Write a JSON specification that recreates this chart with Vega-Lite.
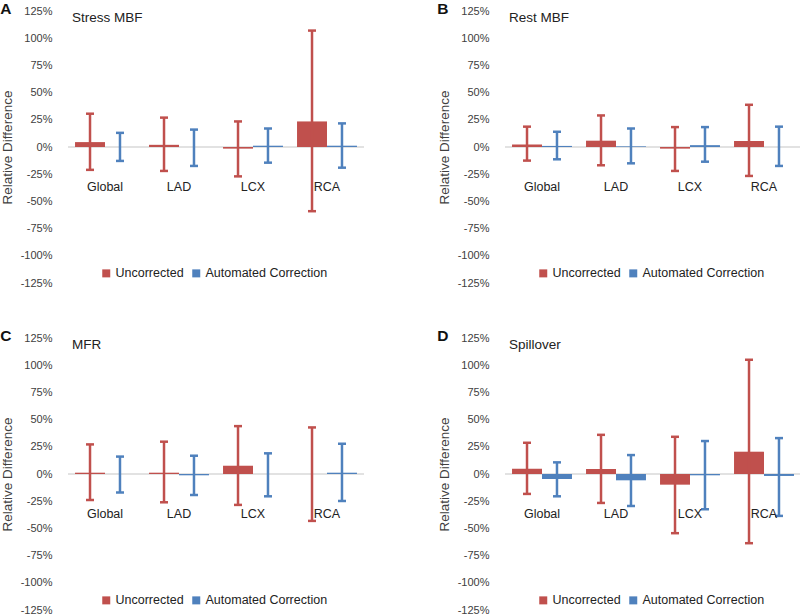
{
  "$schema": "https://vega.github.io/schema/vega-lite/v6.json",
  "padding": {"left": 0, "top": 1, "right": 0, "bottom": 0},
  "background": "white",
  "config": {
    "font": "Liberation Sans",
    "view": {"stroke": null},
    "axisY": {"domain": false, "ticks": false, "grid": false, "labelFontSize": 11, "labelColor": "#404040", "labelPadding": 16, "titleFontSize": 13.5, "titleFontWeight": "normal", "titleColor": "#404040", "titlePadding": 6},
    "title": {"fontSize": 15.5, "fontWeight": "bold", "anchor": "start", "frame": "bounds", "color": "#111111", "dy": 0}
  },
  "datasets": {
    "A": [
      {"cat": "Global", "series": "Uncorrected", "val": 4.5, "lo": -21, "hi": 30.6},
      {"cat": "Global", "series": "Automated Correction", "val": 0, "lo": -12.8, "hi": 13},
      {"cat": "LAD", "series": "Uncorrected", "val": 2, "lo": -22, "hi": 27},
      {"cat": "LAD", "series": "Automated Correction", "val": 0, "lo": -17.4, "hi": 16},
      {"cat": "LCX", "series": "Uncorrected", "val": -1.5, "lo": -27, "hi": 23.5},
      {"cat": "LCX", "series": "Automated Correction", "val": 1.2, "lo": -14.4, "hi": 17},
      {"cat": "RCA", "series": "Uncorrected", "val": 23.5, "lo": -59, "hi": 107},
      {"cat": "RCA", "series": "Automated Correction", "val": 1.2, "lo": -19, "hi": 21.7}
    ],
    "B": [
      {"cat": "Global", "series": "Uncorrected", "val": 2.4, "lo": -12.5, "hi": 18.7},
      {"cat": "Global", "series": "Automated Correction", "val": 1, "lo": -11.3, "hi": 14},
      {"cat": "LAD", "series": "Uncorrected", "val": 5.8, "lo": -16.8, "hi": 29},
      {"cat": "LAD", "series": "Automated Correction", "val": 0.6, "lo": -15, "hi": 17},
      {"cat": "LCX", "series": "Uncorrected", "val": -1.5, "lo": -22, "hi": 18.3},
      {"cat": "LCX", "series": "Automated Correction", "val": 1.7, "lo": -13.5, "hi": 18.3},
      {"cat": "RCA", "series": "Uncorrected", "val": 5.5, "lo": -26.6, "hi": 38.8},
      {"cat": "RCA", "series": "Automated Correction", "val": 0, "lo": -17.4, "hi": 18.7}
    ],
    "C": [
      {"cat": "Global", "series": "Uncorrected", "val": 1.2, "lo": -23.9, "hi": 27.2},
      {"cat": "Global", "series": "Automated Correction", "val": 0, "lo": -17, "hi": 16},
      {"cat": "LAD", "series": "Uncorrected", "val": 1.2, "lo": -26, "hi": 29.7},
      {"cat": "LAD", "series": "Automated Correction", "val": -1.2, "lo": -19.3, "hi": 16.8},
      {"cat": "LCX", "series": "Uncorrected", "val": 7.6, "lo": -28.4, "hi": 44},
      {"cat": "LCX", "series": "Automated Correction", "val": 0, "lo": -20.5, "hi": 19},
      {"cat": "RCA", "series": "Uncorrected", "val": 0, "lo": -43.1, "hi": 42.8},
      {"cat": "RCA", "series": "Automated Correction", "val": 1.2, "lo": -24.8, "hi": 27.8}
    ],
    "D": [
      {"cat": "Global", "series": "Uncorrected", "val": 4.9, "lo": -18.3, "hi": 28.7},
      {"cat": "Global", "series": "Automated Correction", "val": -4.6, "lo": -20.5, "hi": 10.7},
      {"cat": "LAD", "series": "Uncorrected", "val": 4.6, "lo": -26.6, "hi": 36},
      {"cat": "LAD", "series": "Automated Correction", "val": -5.8, "lo": -29.4, "hi": 17.4},
      {"cat": "LCX", "series": "Uncorrected", "val": -9.8, "lo": -54.4, "hi": 34.2},
      {"cat": "LCX", "series": "Automated Correction", "val": -1.2, "lo": -32.4, "hi": 30.3},
      {"cat": "RCA", "series": "Uncorrected", "val": 20.5, "lo": -63.6, "hi": 105},
      {"cat": "RCA", "series": "Automated Correction", "val": -1.8, "lo": -38.5, "hi": 33}
    ]
  },
  "resolve": {"legend": {"color": "independent"}},
  "spacing": 40,
  "vconcat": [
    {
      "resolve": {"legend": {"color": "independent"}},
      "spacing": 72,
      "hconcat": [
        {
          "width": 296, "height": 272,
          "title": {"text": "A", "offset": -12},
          "data": {"name": "A"},
          "layer": [
            {"data": {"values": [{"z": 0}]}, "mark": {"type": "rule", "color": "#d9d9d9", "strokeWidth": 1.5}, "encoding": {"y": {"field": "z", "type": "quantitative", "title": "Relative Difference", "axis": {"values": [-125, -100, -75, -50, -25, 0, 25, 50, 75, 100, 125], "labelExpr": "datum.value + '%'"}}}},
            {"mark": {"type": "bar"}, "encoding": {
              "x": {"field": "cat", "type": "nominal", "sort": ["Global", "LAD", "LCX", "RCA"], "scale": {"paddingInner": 0.19, "paddingOuter": 0.095}, "axis": null},
              "xOffset": {"field": "series", "type": "nominal", "sort": ["Uncorrected", "Automated Correction"], "scale": {"paddingInner": 0, "paddingOuter": 0}},
              "y": {"field": "val", "type": "quantitative", "scale": {"domain": [-125, 125], "nice": false}, "title": "Relative Difference", "axis": {"values": [-125, -100, -75, -50, -25, 0, 25, 50, 75, 100, 125], "labelExpr": "datum.value + '%'"}},
              "color": {"field": "series", "type": "nominal", "scale": {"domain": ["Uncorrected", "Automated Correction"], "range": ["#C0504D", "#4F81BD"]}, "legend": {"orient": "none", "legendX": 32, "legendY": 256, "direction": "horizontal", "title": null, "symbolType": "square", "symbolSize": 64, "symbolStrokeWidth": 0, "labelFontSize": 12.5, "labelColor": "#222222", "columnPadding": 6, "labelOffset": 3, "padding": 0}}
            }},
            {"mark": {"type": "rule", "strokeWidth": 2.5}, "encoding": {
              "x": {"field": "cat", "type": "nominal", "sort": ["Global", "LAD", "LCX", "RCA"], "axis": null},
              "xOffset": {"field": "series", "type": "nominal", "sort": ["Uncorrected", "Automated Correction"]},
              "y": {"field": "lo", "type": "quantitative", "title": "Relative Difference", "axis": {"values": [-125, -100, -75, -50, -25, 0, 25, 50, 75, 100, 125], "labelExpr": "datum.value + '%'"}}, "y2": {"field": "hi"},
              "color": {"field": "series", "type": "nominal", "legend": null}
            }},
            {"mark": {"type": "tick", "orient": "horizontal", "size": 8, "thickness": 2.5, "opacity": 1}, "encoding": {
              "x": {"field": "cat", "type": "nominal", "sort": ["Global", "LAD", "LCX", "RCA"], "axis": null},
              "xOffset": {"field": "series", "type": "nominal", "sort": ["Uncorrected", "Automated Correction"]},
              "y": {"field": "lo", "type": "quantitative", "title": "Relative Difference", "axis": {"values": [-125, -100, -75, -50, -25, 0, 25, 50, 75, 100, 125], "labelExpr": "datum.value + '%'"}},
              "color": {"field": "series", "type": "nominal", "legend": null}
            }},
            {"mark": {"type": "tick", "orient": "horizontal", "size": 8, "thickness": 2.5, "opacity": 1}, "encoding": {
              "x": {"field": "cat", "type": "nominal", "sort": ["Global", "LAD", "LCX", "RCA"], "axis": null},
              "xOffset": {"field": "series", "type": "nominal", "sort": ["Uncorrected", "Automated Correction"]},
              "y": {"field": "hi", "type": "quantitative", "title": "Relative Difference", "axis": {"values": [-125, -100, -75, -50, -25, 0, 25, 50, 75, 100, 125], "labelExpr": "datum.value + '%'"}},
              "color": {"field": "series", "type": "nominal", "legend": null}
            }},
            {"transform": [{"filter": "datum.series === 'Uncorrected'"}], "mark": {"type": "text", "fontSize": 12.5, "color": "#222222", "baseline": "middle"}, "encoding": {
              "x": {"field": "cat", "type": "nominal", "sort": ["Global", "LAD", "LCX", "RCA"], "axis": null},
              "y": {"datum": -37, "type": "quantitative", "title": "Relative Difference", "axis": {"values": [-125, -100, -75, -50, -25, 0, 25, 50, 75, 100, 125], "labelExpr": "datum.value + '%'"}},
              "text": {"field": "cat"}
            }},
            {"data": {"values": [{"t": "Stress MBF", "c": "Global"}]}, "mark": {"type": "text", "fontSize": 13.5, "color": "#222222", "align": "left", "baseline": "middle", "dx": -3}, "encoding": {
              "x": {"field": "c", "type": "nominal", "sort": ["Global", "LAD", "LCX", "RCA"], "bandPosition": 0, "axis": null},
              "y": {"datum": 119, "type": "quantitative", "title": "Relative Difference", "axis": {"values": [-125, -100, -75, -50, -25, 0, 25, 50, 75, 100, 125], "labelExpr": "datum.value + '%'"}},
              "text": {"field": "t"}
            }}
          ]
        },
        {
          "width": 296, "height": 272,
          "title": {"text": "B", "offset": -12},
          "data": {"name": "B"},
          "layer": [
            {"data": {"values": [{"z": 0}]}, "mark": {"type": "rule", "color": "#d9d9d9", "strokeWidth": 1.5}, "encoding": {"y": {"field": "z", "type": "quantitative", "title": "Relative Difference", "axis": {"values": [-125, -100, -75, -50, -25, 0, 25, 50, 75, 100, 125], "labelExpr": "datum.value + '%'"}}}},
            {"mark": {"type": "bar"}, "encoding": {
              "x": {"field": "cat", "type": "nominal", "sort": ["Global", "LAD", "LCX", "RCA"], "scale": {"paddingInner": 0.19, "paddingOuter": 0.095}, "axis": null},
              "xOffset": {"field": "series", "type": "nominal", "sort": ["Uncorrected", "Automated Correction"], "scale": {"paddingInner": 0, "paddingOuter": 0}},
              "y": {"field": "val", "type": "quantitative", "scale": {"domain": [-125, 125], "nice": false}, "title": "Relative Difference", "axis": {"values": [-125, -100, -75, -50, -25, 0, 25, 50, 75, 100, 125], "labelExpr": "datum.value + '%'"}},
              "color": {"field": "series", "type": "nominal", "scale": {"domain": ["Uncorrected", "Automated Correction"], "range": ["#C0504D", "#4F81BD"]}, "legend": {"orient": "none", "legendX": 32, "legendY": 256, "direction": "horizontal", "title": null, "symbolType": "square", "symbolSize": 64, "symbolStrokeWidth": 0, "labelFontSize": 12.5, "labelColor": "#222222", "columnPadding": 6, "labelOffset": 3, "padding": 0}}
            }},
            {"mark": {"type": "rule", "strokeWidth": 2.5}, "encoding": {
              "x": {"field": "cat", "type": "nominal", "sort": ["Global", "LAD", "LCX", "RCA"], "axis": null},
              "xOffset": {"field": "series", "type": "nominal", "sort": ["Uncorrected", "Automated Correction"]},
              "y": {"field": "lo", "type": "quantitative", "title": "Relative Difference", "axis": {"values": [-125, -100, -75, -50, -25, 0, 25, 50, 75, 100, 125], "labelExpr": "datum.value + '%'"}}, "y2": {"field": "hi"},
              "color": {"field": "series", "type": "nominal", "legend": null}
            }},
            {"mark": {"type": "tick", "orient": "horizontal", "size": 8, "thickness": 2.5, "opacity": 1}, "encoding": {
              "x": {"field": "cat", "type": "nominal", "sort": ["Global", "LAD", "LCX", "RCA"], "axis": null},
              "xOffset": {"field": "series", "type": "nominal", "sort": ["Uncorrected", "Automated Correction"]},
              "y": {"field": "lo", "type": "quantitative", "title": "Relative Difference", "axis": {"values": [-125, -100, -75, -50, -25, 0, 25, 50, 75, 100, 125], "labelExpr": "datum.value + '%'"}},
              "color": {"field": "series", "type": "nominal", "legend": null}
            }},
            {"mark": {"type": "tick", "orient": "horizontal", "size": 8, "thickness": 2.5, "opacity": 1}, "encoding": {
              "x": {"field": "cat", "type": "nominal", "sort": ["Global", "LAD", "LCX", "RCA"], "axis": null},
              "xOffset": {"field": "series", "type": "nominal", "sort": ["Uncorrected", "Automated Correction"]},
              "y": {"field": "hi", "type": "quantitative", "title": "Relative Difference", "axis": {"values": [-125, -100, -75, -50, -25, 0, 25, 50, 75, 100, 125], "labelExpr": "datum.value + '%'"}},
              "color": {"field": "series", "type": "nominal", "legend": null}
            }},
            {"transform": [{"filter": "datum.series === 'Uncorrected'"}], "mark": {"type": "text", "fontSize": 12.5, "color": "#222222", "baseline": "middle"}, "encoding": {
              "x": {"field": "cat", "type": "nominal", "sort": ["Global", "LAD", "LCX", "RCA"], "axis": null},
              "y": {"datum": -37, "type": "quantitative", "title": "Relative Difference", "axis": {"values": [-125, -100, -75, -50, -25, 0, 25, 50, 75, 100, 125], "labelExpr": "datum.value + '%'"}},
              "text": {"field": "cat"}
            }},
            {"data": {"values": [{"t": "Rest MBF", "c": "Global"}]}, "mark": {"type": "text", "fontSize": 13.5, "color": "#222222", "align": "left", "baseline": "middle", "dx": -3}, "encoding": {
              "x": {"field": "c", "type": "nominal", "sort": ["Global", "LAD", "LCX", "RCA"], "bandPosition": 0, "axis": null},
              "y": {"datum": 119, "type": "quantitative", "title": "Relative Difference", "axis": {"values": [-125, -100, -75, -50, -25, 0, 25, 50, 75, 100, 125], "labelExpr": "datum.value + '%'"}},
              "text": {"field": "t"}
            }}
          ]
        }
      ]
    },
    {
      "resolve": {"legend": {"color": "independent"}},
      "spacing": 72,
      "hconcat": [
        {
          "width": 296, "height": 272,
          "title": {"text": "C", "offset": -12},
          "data": {"name": "C"},
          "layer": [
            {"data": {"values": [{"z": 0}]}, "mark": {"type": "rule", "color": "#d9d9d9", "strokeWidth": 1.5}, "encoding": {"y": {"field": "z", "type": "quantitative", "title": "Relative Difference", "axis": {"values": [-125, -100, -75, -50, -25, 0, 25, 50, 75, 100, 125], "labelExpr": "datum.value + '%'"}}}},
            {"mark": {"type": "bar"}, "encoding": {
              "x": {"field": "cat", "type": "nominal", "sort": ["Global", "LAD", "LCX", "RCA"], "scale": {"paddingInner": 0.19, "paddingOuter": 0.095}, "axis": null},
              "xOffset": {"field": "series", "type": "nominal", "sort": ["Uncorrected", "Automated Correction"], "scale": {"paddingInner": 0, "paddingOuter": 0}},
              "y": {"field": "val", "type": "quantitative", "scale": {"domain": [-125, 125], "nice": false}, "title": "Relative Difference", "axis": {"values": [-125, -100, -75, -50, -25, 0, 25, 50, 75, 100, 125], "labelExpr": "datum.value + '%'"}},
              "color": {"field": "series", "type": "nominal", "scale": {"domain": ["Uncorrected", "Automated Correction"], "range": ["#C0504D", "#4F81BD"]}, "legend": {"orient": "none", "legendX": 32, "legendY": 256, "direction": "horizontal", "title": null, "symbolType": "square", "symbolSize": 64, "symbolStrokeWidth": 0, "labelFontSize": 12.5, "labelColor": "#222222", "columnPadding": 6, "labelOffset": 3, "padding": 0}}
            }},
            {"mark": {"type": "rule", "strokeWidth": 2.5}, "encoding": {
              "x": {"field": "cat", "type": "nominal", "sort": ["Global", "LAD", "LCX", "RCA"], "axis": null},
              "xOffset": {"field": "series", "type": "nominal", "sort": ["Uncorrected", "Automated Correction"]},
              "y": {"field": "lo", "type": "quantitative", "title": "Relative Difference", "axis": {"values": [-125, -100, -75, -50, -25, 0, 25, 50, 75, 100, 125], "labelExpr": "datum.value + '%'"}}, "y2": {"field": "hi"},
              "color": {"field": "series", "type": "nominal", "legend": null}
            }},
            {"mark": {"type": "tick", "orient": "horizontal", "size": 8, "thickness": 2.5, "opacity": 1}, "encoding": {
              "x": {"field": "cat", "type": "nominal", "sort": ["Global", "LAD", "LCX", "RCA"], "axis": null},
              "xOffset": {"field": "series", "type": "nominal", "sort": ["Uncorrected", "Automated Correction"]},
              "y": {"field": "lo", "type": "quantitative", "title": "Relative Difference", "axis": {"values": [-125, -100, -75, -50, -25, 0, 25, 50, 75, 100, 125], "labelExpr": "datum.value + '%'"}},
              "color": {"field": "series", "type": "nominal", "legend": null}
            }},
            {"mark": {"type": "tick", "orient": "horizontal", "size": 8, "thickness": 2.5, "opacity": 1}, "encoding": {
              "x": {"field": "cat", "type": "nominal", "sort": ["Global", "LAD", "LCX", "RCA"], "axis": null},
              "xOffset": {"field": "series", "type": "nominal", "sort": ["Uncorrected", "Automated Correction"]},
              "y": {"field": "hi", "type": "quantitative", "title": "Relative Difference", "axis": {"values": [-125, -100, -75, -50, -25, 0, 25, 50, 75, 100, 125], "labelExpr": "datum.value + '%'"}},
              "color": {"field": "series", "type": "nominal", "legend": null}
            }},
            {"transform": [{"filter": "datum.series === 'Uncorrected'"}], "mark": {"type": "text", "fontSize": 12.5, "color": "#222222", "baseline": "middle"}, "encoding": {
              "x": {"field": "cat", "type": "nominal", "sort": ["Global", "LAD", "LCX", "RCA"], "axis": null},
              "y": {"datum": -37, "type": "quantitative", "title": "Relative Difference", "axis": {"values": [-125, -100, -75, -50, -25, 0, 25, 50, 75, 100, 125], "labelExpr": "datum.value + '%'"}},
              "text": {"field": "cat"}
            }},
            {"data": {"values": [{"t": "MFR", "c": "Global"}]}, "mark": {"type": "text", "fontSize": 13.5, "color": "#222222", "align": "left", "baseline": "middle", "dx": -3}, "encoding": {
              "x": {"field": "c", "type": "nominal", "sort": ["Global", "LAD", "LCX", "RCA"], "bandPosition": 0, "axis": null},
              "y": {"datum": 119, "type": "quantitative", "title": "Relative Difference", "axis": {"values": [-125, -100, -75, -50, -25, 0, 25, 50, 75, 100, 125], "labelExpr": "datum.value + '%'"}},
              "text": {"field": "t"}
            }}
          ]
        },
        {
          "width": 296, "height": 272,
          "title": {"text": "D", "offset": -12},
          "data": {"name": "D"},
          "layer": [
            {"data": {"values": [{"z": 0}]}, "mark": {"type": "rule", "color": "#d9d9d9", "strokeWidth": 1.5}, "encoding": {"y": {"field": "z", "type": "quantitative", "title": "Relative Difference", "axis": {"values": [-125, -100, -75, -50, -25, 0, 25, 50, 75, 100, 125], "labelExpr": "datum.value + '%'"}}}},
            {"mark": {"type": "bar"}, "encoding": {
              "x": {"field": "cat", "type": "nominal", "sort": ["Global", "LAD", "LCX", "RCA"], "scale": {"paddingInner": 0.19, "paddingOuter": 0.095}, "axis": null},
              "xOffset": {"field": "series", "type": "nominal", "sort": ["Uncorrected", "Automated Correction"], "scale": {"paddingInner": 0, "paddingOuter": 0}},
              "y": {"field": "val", "type": "quantitative", "scale": {"domain": [-125, 125], "nice": false}, "title": "Relative Difference", "axis": {"values": [-125, -100, -75, -50, -25, 0, 25, 50, 75, 100, 125], "labelExpr": "datum.value + '%'"}},
              "color": {"field": "series", "type": "nominal", "scale": {"domain": ["Uncorrected", "Automated Correction"], "range": ["#C0504D", "#4F81BD"]}, "legend": {"orient": "none", "legendX": 32, "legendY": 256, "direction": "horizontal", "title": null, "symbolType": "square", "symbolSize": 64, "symbolStrokeWidth": 0, "labelFontSize": 12.5, "labelColor": "#222222", "columnPadding": 6, "labelOffset": 3, "padding": 0}}
            }},
            {"mark": {"type": "rule", "strokeWidth": 2.5}, "encoding": {
              "x": {"field": "cat", "type": "nominal", "sort": ["Global", "LAD", "LCX", "RCA"], "axis": null},
              "xOffset": {"field": "series", "type": "nominal", "sort": ["Uncorrected", "Automated Correction"]},
              "y": {"field": "lo", "type": "quantitative", "title": "Relative Difference", "axis": {"values": [-125, -100, -75, -50, -25, 0, 25, 50, 75, 100, 125], "labelExpr": "datum.value + '%'"}}, "y2": {"field": "hi"},
              "color": {"field": "series", "type": "nominal", "legend": null}
            }},
            {"mark": {"type": "tick", "orient": "horizontal", "size": 8, "thickness": 2.5, "opacity": 1}, "encoding": {
              "x": {"field": "cat", "type": "nominal", "sort": ["Global", "LAD", "LCX", "RCA"], "axis": null},
              "xOffset": {"field": "series", "type": "nominal", "sort": ["Uncorrected", "Automated Correction"]},
              "y": {"field": "lo", "type": "quantitative", "title": "Relative Difference", "axis": {"values": [-125, -100, -75, -50, -25, 0, 25, 50, 75, 100, 125], "labelExpr": "datum.value + '%'"}},
              "color": {"field": "series", "type": "nominal", "legend": null}
            }},
            {"mark": {"type": "tick", "orient": "horizontal", "size": 8, "thickness": 2.5, "opacity": 1}, "encoding": {
              "x": {"field": "cat", "type": "nominal", "sort": ["Global", "LAD", "LCX", "RCA"], "axis": null},
              "xOffset": {"field": "series", "type": "nominal", "sort": ["Uncorrected", "Automated Correction"]},
              "y": {"field": "hi", "type": "quantitative", "title": "Relative Difference", "axis": {"values": [-125, -100, -75, -50, -25, 0, 25, 50, 75, 100, 125], "labelExpr": "datum.value + '%'"}},
              "color": {"field": "series", "type": "nominal", "legend": null}
            }},
            {"transform": [{"filter": "datum.series === 'Uncorrected'"}], "mark": {"type": "text", "fontSize": 12.5, "color": "#222222", "baseline": "middle"}, "encoding": {
              "x": {"field": "cat", "type": "nominal", "sort": ["Global", "LAD", "LCX", "RCA"], "axis": null},
              "y": {"datum": -37, "type": "quantitative", "title": "Relative Difference", "axis": {"values": [-125, -100, -75, -50, -25, 0, 25, 50, 75, 100, 125], "labelExpr": "datum.value + '%'"}},
              "text": {"field": "cat"}
            }},
            {"data": {"values": [{"t": "Spillover", "c": "Global"}]}, "mark": {"type": "text", "fontSize": 13.5, "color": "#222222", "align": "left", "baseline": "middle", "dx": -3}, "encoding": {
              "x": {"field": "c", "type": "nominal", "sort": ["Global", "LAD", "LCX", "RCA"], "bandPosition": 0, "axis": null},
              "y": {"datum": 119, "type": "quantitative", "title": "Relative Difference", "axis": {"values": [-125, -100, -75, -50, -25, 0, 25, 50, 75, 100, 125], "labelExpr": "datum.value + '%'"}},
              "text": {"field": "t"}
            }}
          ]
        }
      ]
    }
  ]
}
